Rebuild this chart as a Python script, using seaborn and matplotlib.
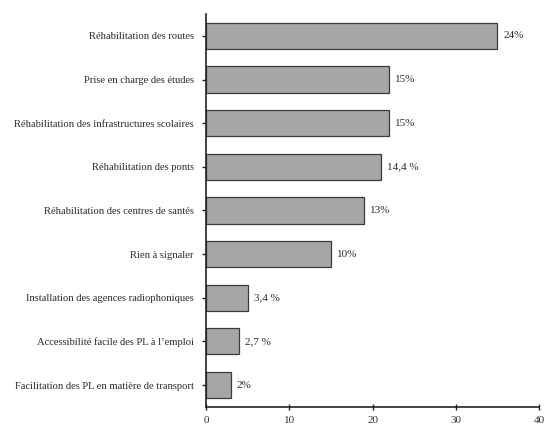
import matplotlib
matplotlib.use("Agg")
import matplotlib.pyplot as plt
import seaborn as sns
import pandas as pd

categories = [
    "Réhabilitation des routes",
    "Prise en charge des études",
    "Réhabilitation des infrastructures scolaires",
    "Réhabilitation des ponts",
    "Réhabilitation des centres de santés",
    "Rien à signaler",
    "Installation des agences radiophoniques",
    "Accessibilité facile des PL à l’emploi",
    "Facilitation des PL en matière de transport",
]
values = [35, 22, 22, 21, 19, 15, 5, 4, 3]
labels = ["24%", "15%", "15%", "14,4 %", "13%", "10%", "3,4 %", "2,7 %", "2%"]
xticks = [0, 10, 20, 30, 40]

sns.set_style("white")
plt.rcParams["font.family"] = ["Liberation Serif", "DejaVu Serif"]

df = pd.DataFrame({"cat": categories, "val": values})

fig = plt.figure(figsize=(5.44, 4.26), dpi=100)
ax = fig.add_axes([0.379, 0.045, 0.612, 0.922])
sns.barplot(data=df, y="cat", x="val", orient="h", color="#a6a6a6",
            edgecolor="#3a3a3a", linewidth=0.9, width=0.6, saturation=1, ax=ax)
for i, (v, lab) in enumerate(zip(values, labels)):
    ax.text(v + 0.7, i, lab, va="center", ha="left", fontsize=8, color="#2a2a2a")

ax.set_xlim(0, 40)
ax.set_ylim(8.5, -0.5)
ax.set_xticks(xticks)
ax.set_xticklabels([str(t) for t in xticks], fontsize=8, color="#333333")
ax.set_yticks(range(len(categories)))
ax.set_yticklabels(categories, fontsize=7.6, color="#2a2a2a")
ax.set_xlabel("")
ax.set_ylabel("")
for s in ["top", "right"]:
    ax.spines[s].set_visible(False)
for s in ["left", "bottom"]:
    ax.spines[s].set_color("#222222")
    ax.spines[s].set_linewidth(1.2)
ax.tick_params(axis="y", direction="out", length=3, width=1, color="#222222", pad=6, left=True)
ax.tick_params(axis="x", direction="inout", length=5, width=1, color="#222222", pad=4, bottom=True)

fig.savefig("out.png", dpi=100)
